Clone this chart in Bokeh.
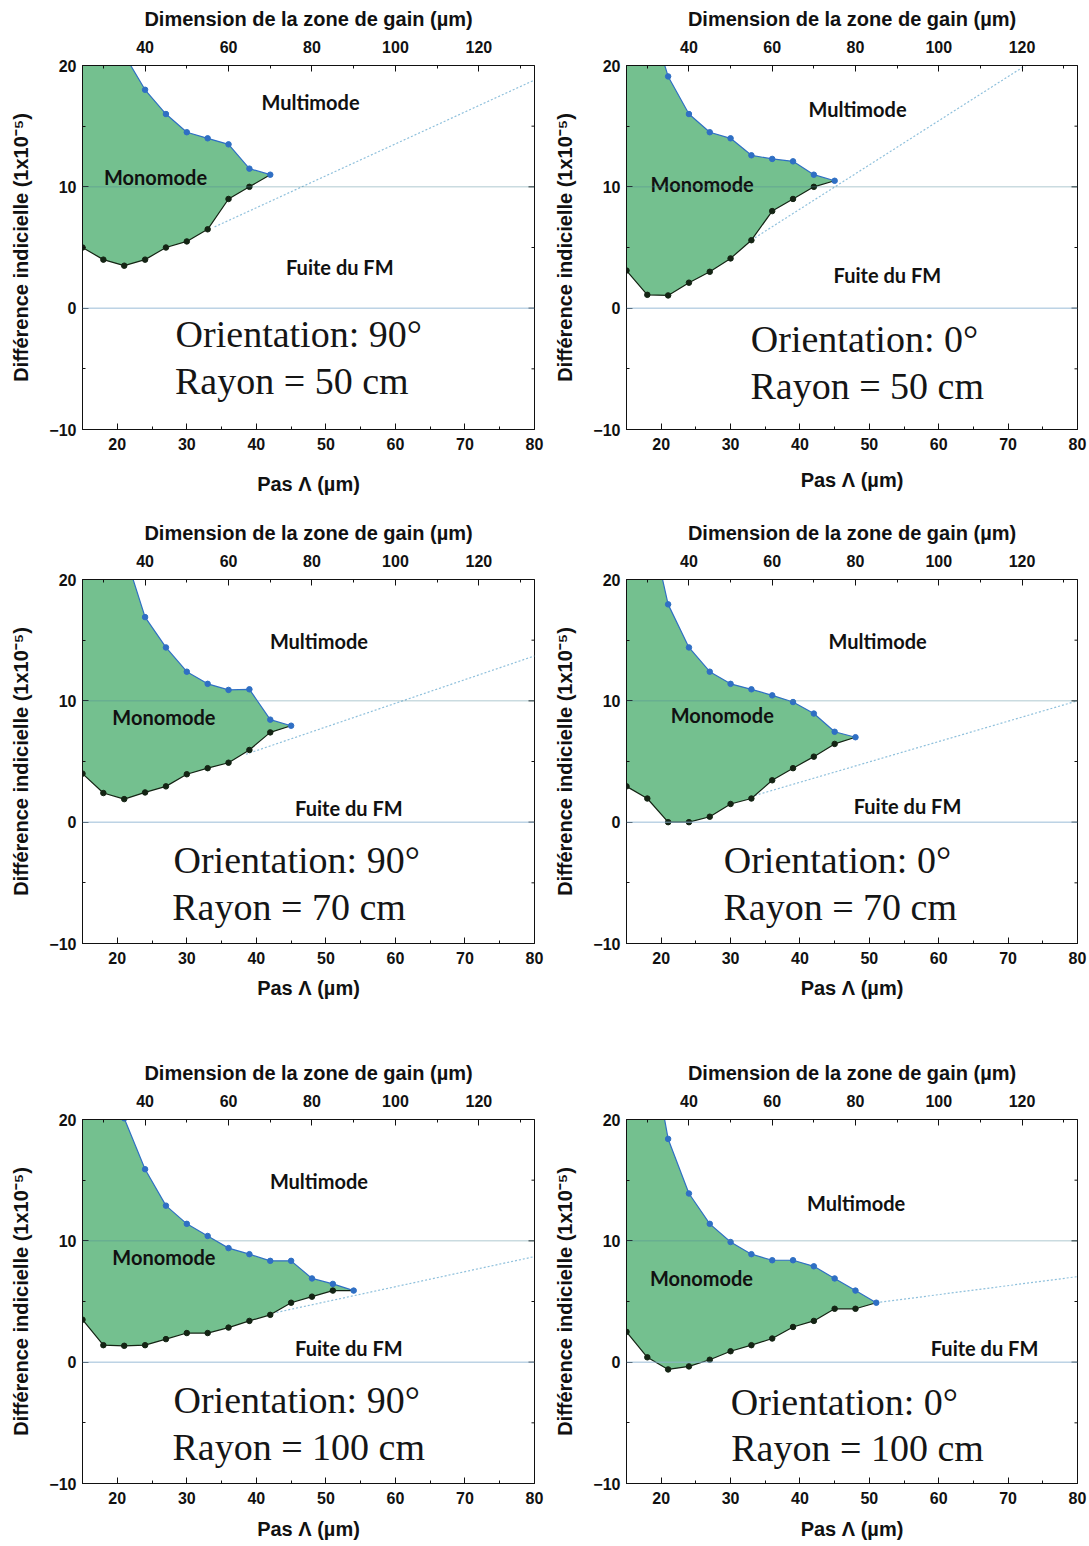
from bokeh.plotting import figure
from bokeh.models import Range1d, LinearAxis, FixedTicker, Span
from bokeh.layouts import column, row
from bokeh.embed import file_html
from bokeh.resources import INLINE
from bokeh.core.properties import value

# ---------------- axes ----------------
X_RANGE = (15, 80)              # Pas Λ (µm)
Y_RANGE = (-10, 20)             # Différence indicielle (1e-5)
TOP_RANGE = (25, 133.33)        # Dimension de la zone de gain (µm)
X_TICKS = [20, 30, 40, 50, 60, 70, 80]
X_MINOR = [25, 35, 45, 55, 65, 75]
TOP_TICKS = [40, 60, 80, 100, 120]
TOP_MINOR = [30, 50, 70, 90, 110, 130]
Y_TICKS = [-10, 0, 10, 20]
Y_MINOR = [-5, 5, 15]

# ---------------- panel 1 : 90°, R = 50 cm ----------------
P1_UP_X = [15, 18, 21, 24, 27, 30, 33, 36, 39, 42]
P1_UP_Y = [30, 25, 20.9, 18.0, 16.0, 14.5, 14.0, 13.5, 11.5, 11.0]
P1_LO_X = [15, 18, 21, 24, 27, 30, 33, 36, 39]
P1_LO_Y = [5.0, 4.0, 3.5, 4.0, 5.0, 5.5, 6.5, 9.0, 10.0]
P1_DIAG_X = [34, 80]
P1_DIAG_Y = [6.7, 18.8]
P1_TEXT = ["Orientation: 90°", "Rayon = 50 cm"]

# ---------------- panel 2 : 0°, R = 50 cm ----------------
P2_UP_X = [15, 18, 21, 24, 27, 30, 33, 36, 39, 42, 45]
P2_UP_Y = [31, 24.7, 19.1, 16.0, 14.5, 14.0, 12.6, 12.3, 12.1, 11.0, 10.5]
P2_LO_X = [15, 18, 21, 24, 27, 30, 33, 36, 39, 42]
P2_LO_Y = [3.1, 1.1, 1.05, 2.1, 3.0, 4.1, 5.6, 8.0, 9.0, 10.0]
P2_DIAG_X = [33.5, 72.5]
P2_DIAG_Y = [5.8, 20.0]
P2_TEXT = ["Orientation: 0°", "Rayon = 50 cm"]

# ---------------- panel 3 : 90°, R = 70 cm ----------------
P3_UP_X = [15, 18, 21, 24, 27, 30, 33, 36, 39, 42, 45]
P3_UP_Y = [34, 28, 22.3, 16.9, 14.4, 12.4, 11.4, 10.9, 10.95, 8.45, 7.95]
P3_LO_X = [15, 18, 21, 24, 27, 30, 33, 36, 39, 42]
P3_LO_Y = [4.0, 2.4, 1.9, 2.45, 2.95, 3.95, 4.45, 4.9, 5.95, 7.4]
P3_DIAG_X = [38.5, 80]
P3_DIAG_Y = [5.6, 13.7]
P3_TEXT = ["Orientation: 90°", "Rayon = 70 cm"]

# ---------------- panel 4 : 0°, R = 70 cm ----------------
P4_UP_X = [15, 18, 21, 24, 27, 30, 33, 36, 39, 42, 45, 48]
P4_UP_Y = [33, 25.6, 17.95, 14.4, 12.4, 11.4, 10.95, 10.45, 9.9, 8.95, 7.45, 7.0]
P4_LO_X = [15, 18, 21, 24, 27, 30, 33, 36, 39, 42, 45]
P4_LO_Y = [2.95, 1.95, 0.0, 0.0, 0.45, 1.5, 1.95, 3.45, 4.45, 5.4, 6.45]
P4_DIAG_X = [33.5, 80]
P4_DIAG_Y = [2.2, 10.0]
P4_TEXT = ["Orientation: 0°", "Rayon = 70 cm"]

# ---------------- panel 5 : 90°, R = 100 cm ----------------
P5_UP_X = [15, 18, 21, 24, 27, 30, 33, 36, 39, 42, 45, 48, 51, 54]
P5_UP_Y = [30, 25, 20.1, 15.9, 12.9, 11.4, 10.4, 9.4, 8.9, 8.35, 8.35, 6.9, 6.45, 5.9]
P5_LO_X = [15, 18, 21, 24, 27, 30, 33, 36, 39, 42, 45, 48, 51]
P5_LO_Y = [3.5, 1.4, 1.35, 1.4, 1.9, 2.4, 2.4, 2.85, 3.4, 3.9, 4.9, 5.4, 5.9]
P5_DIAG_X = [42.9, 80]
P5_DIAG_Y = [4.1, 8.7]
P5_TEXT = ["Orientation: 90°", "Rayon = 100 cm"]

# ---------------- panel 6 : 0°, R = 100 cm ----------------
P6_UP_X = [15, 18, 21, 24, 27, 30, 33, 36, 39, 42, 45, 48, 51]
P6_UP_Y = [36, 27.9, 18.4, 13.9, 11.4, 9.9, 8.9, 8.4, 8.4, 7.9, 6.9, 5.9, 4.9]
P6_LO_X = [15, 18, 21, 24, 27, 30, 33, 36, 39, 42, 45, 48]
P6_LO_Y = [2.5, 0.4, -0.6, -0.35, 0.2, 0.9, 1.4, 1.95, 2.9, 3.4, 4.4, 4.4]
P6_DIAG_X = [51, 80]
P6_DIAG_Y = [4.9, 7.05]
P6_TEXT = ["Orientation: 0°", "Rayon = 100 cm"]

REGION_NAMES = ["Multimode", "Monomode", "Fuite du FM"]

# label anchors (data coordinates): multimode, monomode, fuite, orientation, rayon
P1_POS = [(47.8, 17.0), (25.5, 10.8), (52.0, 3.4), (46.1, -2.1), (45.1, -6.0)]
P2_POS = [(48.3, 16.4), (25.9, 10.2), (52.6, 2.7), (49.3, -2.5), (49.7, -6.4)]
P3_POS = [(49.0, 14.9), (26.7, 8.7), (53.3, 1.2), (45.8, -3.1), (44.7, -7.0)]
P4_POS = [(51.2, 14.9), (28.8, 8.8), (55.5, 1.3), (45.4, -3.1), (45.8, -7.0)]
P5_POS = [(49.0, 14.9), (26.7, 8.7), (53.3, 1.2), (45.8, -3.1), (46.1, -7.0)]
P6_POS = [(48.1, 13.1), (25.8, 6.9), (66.6, 1.2), (46.4, -3.3), (48.3, -7.1)]

FILL = "#74c08f"
UP_COL = "#2f6fc4"
LO_COL = "#142414"
DIAG_COL = "#8fc0dc"
INK = "#111111"
SANS = "Liberation Sans"
SERIF = "Liberation Serif"
LABEL_FONT = "Lato"


def style_axis(ax):
    ax.axis_line_color = INK
    ax.major_tick_line_color = INK
    ax.minor_tick_line_color = INK
    ax.major_tick_in = 6
    ax.major_tick_out = 0
    ax.minor_tick_in = 3
    ax.minor_tick_out = 0
    ax.major_label_text_font = SANS
    ax.major_label_text_font_style = "bold"
    ax.major_label_text_font_size = "16px"
    ax.major_label_text_color = INK
    ax.axis_label_text_font = SANS
    ax.axis_label_text_font_style = "bold"
    ax.axis_label_text_font_size = "20px"
    ax.axis_label_text_color = INK


def panel(up_x, up_y, lo_x, lo_y, dx, dy, texts, pos, left_b, frame_w, right_b,
          top_b, bottom_b, title_standoff):
    p = figure(frame_width=frame_w, frame_height=364,
               x_range=Range1d(*X_RANGE), y_range=Range1d(*Y_RANGE),
               output_backend="svg", toolbar_location=None,
               min_border_left=left_b, min_border_right=right_b,
               min_border_top=top_b, min_border_bottom=bottom_b)
    p.grid.visible = False
    p.outline_line_color = INK
    p.background_fill_color = "white"
    p.border_fill_color = "white"

    xa = p.below[0]
    xa.ticker = FixedTicker(ticks=X_TICKS, minor_ticks=X_MINOR)
    xa.axis_label = "Pas Λ (µm)"
    style_axis(xa)
    xa.major_label_standoff = 8
    xa.axis_label_standoff = title_standoff

    ya = p.left[0]
    ya.ticker = FixedTicker(ticks=Y_TICKS, minor_ticks=Y_MINOR)
    ya.axis_label = "Différence indicielle (1x10⁻⁵)"
    style_axis(ya)
    ya.major_label_standoff = 6
    ya.axis_label_standoff = 14

    p.extra_x_ranges = {"top": Range1d(*TOP_RANGE)}
    top = LinearAxis(x_range_name="top",
                     axis_label="Dimension de la zone de gain (µm)",
                     ticker=FixedTicker(ticks=TOP_TICKS, minor_ticks=TOP_MINOR))
    style_axis(top)
    top.major_label_standoff = 13
    top.axis_label_standoff = 8
    p.add_layout(top, "above")

    # shaded single-mode region
    px = list(lo_x) + list(reversed(up_x))
    py = list(lo_y) + list(reversed(up_y))
    p.patch(px, py, fill_color=FILL, fill_alpha=1.0, line_color=None)

    # reference lines
    p.add_layout(Span(location=10, dimension="width", line_color="#4f8a9a",
                      line_alpha=0.45, line_width=1))
    p.add_layout(Span(location=0, dimension="width", line_color="#8fb5d3",
                      line_alpha=0.9, line_width=1))

    # leakage asymptote
    p.line(dx, dy, line_color=DIAG_COL, line_width=1.2, line_dash="2 2")

    # boundaries
    p.line(list(lo_x) + [up_x[-1]], list(lo_y) + [up_y[-1]],
           line_color=LO_COL, line_width=1.2)
    p.line(up_x, up_y, line_color=UP_COL, line_width=1.2)
    p.scatter(lo_x, lo_y, size=5.5, fill_color=LO_COL, line_color=LO_COL)
    p.scatter(up_x, up_y, size=5.5, fill_color=UP_COL, line_color=UP_COL)

    # inward ticks on the right edge (mirror of the left axis, no labels)
    p.scatter([X_RANGE[1]] * len(Y_TICKS), Y_TICKS, marker="dash", size=12,
              line_color=INK, line_width=1)
    p.scatter([X_RANGE[1]] * len(Y_MINOR), Y_MINOR, marker="dash", size=6,
              line_color=INK, line_width=1)

    # region names
    for name, (x, y) in zip(REGION_NAMES, pos[:3]):
        p.text([x], [y], text=[name], text_font=value(LABEL_FONT),
               text_font_style="bold", text_font_size="20px",
               text_color=INK, text_align="center",
               text_baseline="middle")
    for t, (x, y) in zip(texts, pos[3:]):
        p.text([x], [y], text=[t], text_font=value(SERIF),
               text_font_size="38px", text_color="#151515",
               text_align="center", text_baseline="middle")
    return p


LEFT_COL = dict(left_b=82, frame_w=452, right_b=10)
RIGHT_COL = dict(left_b=82, frame_w=451, right_b=10)

p1 = panel(P1_UP_X, P1_UP_Y, P1_LO_X, P1_LO_Y, P1_DIAG_X, P1_DIAG_Y, P1_TEXT, P1_POS,
           top_b=65, bottom_b=89, title_standoff=20, **LEFT_COL)
p2 = panel(P2_UP_X, P2_UP_Y, P2_LO_X, P2_LO_Y, P2_DIAG_X, P2_DIAG_Y, P2_TEXT, P2_POS,
           top_b=65, bottom_b=89, title_standoff=16, **RIGHT_COL)
p3 = panel(P3_UP_X, P3_UP_Y, P3_LO_X, P3_LO_Y, P3_DIAG_X, P3_DIAG_Y, P3_TEXT, P3_POS,
           top_b=58, bottom_b=115, title_standoff=10, **LEFT_COL)
p4 = panel(P4_UP_X, P4_UP_Y, P4_LO_X, P4_LO_Y, P4_DIAG_X, P4_DIAG_Y, P4_TEXT, P4_POS,
           top_b=58, bottom_b=115, title_standoff=10, **RIGHT_COL)
p5 = panel(P5_UP_X, P5_UP_Y, P5_LO_X, P5_LO_Y, P5_DIAG_X, P5_DIAG_Y, P5_TEXT, P5_POS,
           top_b=58, bottom_b=58, title_standoff=11, **LEFT_COL)
p6 = panel(P6_UP_X, P6_UP_Y, P6_LO_X, P6_LO_Y, P6_DIAG_X, P6_DIAG_Y, P6_TEXT, P6_POS,
           top_b=58, bottom_b=58, title_standoff=11, **RIGHT_COL)

layout = column(row(p1, p2), row(p3, p4), row(p5, p6))
open("out.html", "w").write(file_html(layout, INLINE))
